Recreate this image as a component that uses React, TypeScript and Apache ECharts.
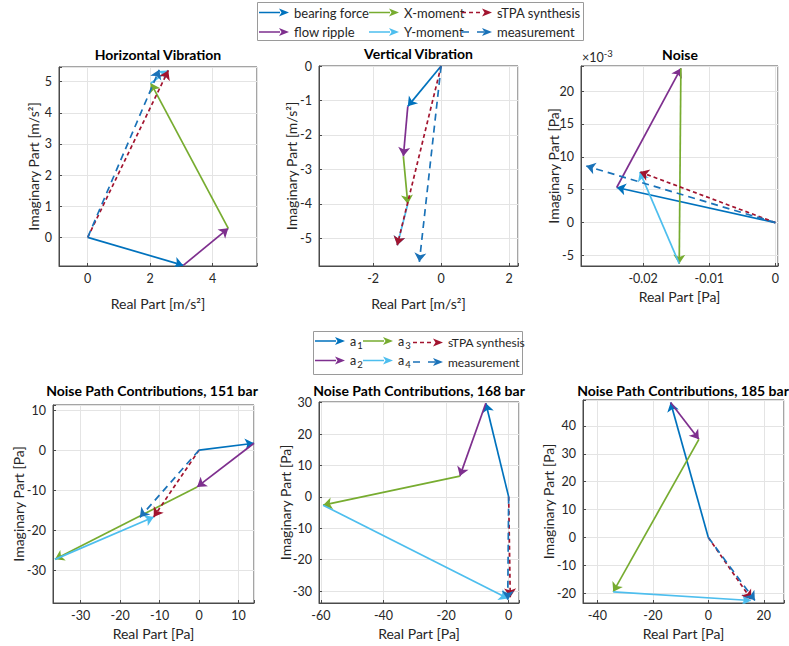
import React, { useEffect, useRef } from 'react';
import * as echarts from 'echarts';

// ---------- data ----------
const topComponentNames = ['bearing force', 'flow ripple', 'X-moment', 'Y-moment'];
const bottomComponentNames = ['a1', 'a2', 'a3', 'a4'];
const synthesisName = 'sTPA synthesis';
const measurementName = 'measurement';

const plotTitles = [
  'Horizontal Vibration',
  'Vertical Vibration',
  'Noise',
  'Noise Path Contributions, 151 bar',
  'Noise Path Contributions, 168 bar',
  'Noise Path Contributions, 185 bar',
];

const xAxisNames = ['Real Part [m/s²]', 'Real Part [m/s²]', 'Real Part [Pa]', 'Real Part [Pa]', 'Real Part [Pa]', 'Real Part [Pa]'];
const yAxisNames = ['Imaginary Part [m/s²]', 'Imaginary Part [m/s²]', 'Imaginary Part [Pa]', 'Imaginary Part [Pa]', 'Imaginary Part [Pa]', 'Imaginary Part [Pa]'];

const xTickSteps = [2, 2, 0.01, 10, 20, 20];
const yTickSteps = [1, 1, 0.005, 10, 10, 10];
const xLimits = [[-0.92, 5.42], [-3.59, 2.26], [-0.0294, 0.0004], [-37, 13.9], [-60.6, 3.3], [-45.2, 27.3]];
const yLimits = [[-0.92, 5.47], [-5.8, 0], [-0.0066, 0.0238], [-38.2, 11.25], [-33.8, 30.2], [-23.5, 49.3]];

// cumulative phasor chains: origin, then the tip after each of the 4 contributions
const horizontalChain = [[0, 0], [3.06, -0.9], [4.5, 0.29], [2.02, 4.95], [2.58, 5.36]];
const verticalChain = [[0, 0], [-0.98, -1.17], [-1.11, -2.62], [-0.98, -4.0], [-1.29, -5.2]];
const noiseChain = [[0, 0], [-0.024, 0.00533], [-0.01429, 0.02345], [-0.01454, -0.00624], [-0.0205, 0.0077]];
const bar151Chain = [[0, 0], [13.9, 1.7], [-0.5, -9.2], [-36.5, -27.3], [-11.5, -16.7]];
const bar168Chain = [[0, 0], [-7.3, 29.8], [-15.6, 6.6], [-59.3, -2.65], [-0.2, -32.4]];
const bar185Chain = [[0, 0], [-13.6, 48.4], [-3.4, 35.2], [-34.3, -19.5], [15.3, -22.6]];

const synthesisTips = [[2.58, 5.36], [-1.29, -5.2], [-0.0205, 0.0077], [-11.5, -16.7], [0.5, -32.0], [15.5, -22.2]];
const measurementTips = [[2.29, 5.38], [-0.64, -5.68], [-0.0286, 0.0086], [-15.0, -16.8], [-0.3, -32.8], [16.8, -22.6]];

const chains = [horizontalChain, verticalChain, noiseChain, bar151Chain, bar168Chain, bar185Chain];

// ---------- style / layout ----------
const componentColors = ['#0072BD', '#7E2F8E', '#77AC30', '#4DBEEE'];
const synthesisColor = '#A2142F';
const measurementColor = '#1A72B8';
const FONT = 'Lato';
const TEXT = '#262626';
const AXIS = '#4a4a4a';

const grids = [
  { left: 59, top: 67, width: 198, height: 199 },
  { left: 319, top: 66, width: 199, height: 200 },
  { left: 581, top: 66, width: 197, height: 200 },
  { left: 53, top: 405, width: 201, height: 198 },
  { left: 319, top: 402, width: 200, height: 201 },
  { left: 583, top: 400, width: 201, height: 203 },
];
const titleCenters = [[158, 54], [418.5, 53.5], [680, 54], [152, 390.5], [419, 390.5], [683, 390.5]];
const yNameCenters = [[33, 166.5], [291.5, 166], [553, 166], [18.5, 504], [285, 502.5], [548.5, 501.5]];
const xNameGaps = [30, 30, 23, 23, 23, 23];

const solidIcon = 'path://M0 3.2L21 3.2L21 4.8L0 4.8Z M20 0L30 4L20 8L22.5 4Z';
const synthIcon = 'path://M0 3.2L4 3.2L4 4.8L0 4.8Z M7 3.2L11 3.2L11 4.8L7 4.8Z M14 3.2L18 3.2L18 4.8L14 4.8Z M20 0L30 4L20 8L22.5 4Z';
const measIcon = 'path://M0 3.2L7 3.2L7 4.8L0 4.8Z M15 3.2L22 3.2L22 4.8L15 4.8Z M20 0L30 4L20 8L22.5 4Z';

const isMultiple = (v: number, step: number) => Math.abs(v / step - Math.round(v / step)) < 1e-6;
const fmtNum = (v: number) => String(parseFloat(v.toFixed(6)));

export default function App() {
  const ref = useRef<HTMLDivElement>(null);

  useEffect(() => {
    document.body.style.margin = '0';
    if (!ref.current) return;
    const chart = echarts.init(ref.current, undefined, { renderer: 'svg' });

    const xAxes: any[] = [];
    const yAxes: any[] = [];
    const series: any[] = [];

    for (let p = 0; p < 6; p++) {
      const xs = xTickSteps[p];
      const ys = yTickSteps[p];
      const common = {
        gridIndex: p,
        type: 'value',
        splitNumber: 5,
        axisTick: { show: true, inside: true, length: 3, lineStyle: { color: AXIS } },
        splitLine: { show: true, lineStyle: { color: '#e4e4e4', width: 1 } },
      };
      xAxes.push({
        ...common,
        position: 'bottom',
        min: xLimits[p][0],
        max: xLimits[p][1],
        minInterval: xs,
        maxInterval: xs,
        axisLine: { show: true, onZero: false, lineStyle: { color: AXIS, width: 1 } },
        axisLabel: {
          show: true, margin: 6, color: TEXT, fontSize: 12.5, fontFamily: FONT, hideOverlap: false,
          formatter: (v: number) => (isMultiple(v, xs) ? fmtNum(v) : ''),
        },
        name: xAxisNames[p],
        nameLocation: 'middle',
        nameGap: xNameGaps[p],
        nameTextStyle: { color: TEXT, fontSize: 14, fontFamily: FONT },
      });
      yAxes.push({
        ...common,
        position: 'left',
        min: yLimits[p][0],
        max: yLimits[p][1],
        minInterval: ys,
        maxInterval: ys,
        axisLine: { show: true, onZero: false, lineStyle: { color: AXIS, width: 1 } },
        axisLabel: {
          show: true, margin: 7, color: TEXT, fontSize: 12.5, fontFamily: FONT, hideOverlap: false,
          formatter: (v: number) => (isMultiple(v, ys) ? (p === 2 ? String(Math.round(v * 1000)) : fmtNum(v)) : ''),
        },
      });

      const names = p < 3 ? topComponentNames : bottomComponentNames;
      const chain = chains[p];
      const base = {
        type: 'lines',
        coordinateSystem: 'cartesian2d',
        xAxisIndex: p,
        yAxisIndex: p,
        symbol: ['none', 'arrow'],
        symbolSize: [6, 9],
        silent: true,
        clip: true,
      };
      for (let k = 0; k < 4; k++) {
        series.push({
          ...base,
          name: names[k],
          z: 2 + k,
          lineStyle: { color: componentColors[k], width: 1.7, type: 'solid', opacity: 1, curveness: 0 },
          data: [{ coords: [chain[k], chain[k + 1]] }],
        });
      }
      series.push({
        ...base,
        name: synthesisName,
        z: 7,
        lineStyle: { color: synthesisColor, width: 1.7, type: [4, 3], opacity: 1, curveness: 0 },
        data: [{ coords: [[0, 0], synthesisTips[p]] }],
      });
      series.push({
        ...base,
        name: measurementName,
        z: 8,
        lineStyle: { color: measurementColor, width: 1.7, type: [7, 5], opacity: 1, curveness: 0 },
        data: [{ coords: [[0, 0], measurementTips[p]] }],
      });
    }

    // legends: one component per entry so columns line up
    const legendEntries = [
      { name: 'bearing force', icon: solidIcon, color: componentColors[0], left: 259, cy: 12.5, fs: 13 },
      { name: 'flow ripple', icon: solidIcon, color: componentColors[1], left: 259, cy: 32, fs: 13 },
      { name: 'X-moment', icon: solidIcon, color: componentColors[2], left: 369, cy: 12.5, fs: 13 },
      { name: 'Y-moment', icon: solidIcon, color: componentColors[3], left: 369, cy: 32, fs: 13 },
      { name: synthesisName, icon: synthIcon, color: synthesisColor, left: 462, cy: 12.5, fs: 13 },
      { name: measurementName, icon: measIcon, color: measurementColor, left: 462, cy: 32, fs: 13 },
      { name: 'a1', icon: solidIcon, color: componentColors[0], left: 315, cy: 342.5, fs: 12 },
      { name: 'a2', icon: solidIcon, color: componentColors[1], left: 315, cy: 362, fs: 12 },
      { name: 'a3', icon: solidIcon, color: componentColors[2], left: 363, cy: 342.5, fs: 12 },
      { name: 'a4', icon: solidIcon, color: componentColors[3], left: 363, cy: 362, fs: 12 },
      { name: synthesisName, icon: synthIcon, color: synthesisColor, left: 413, cy: 342.5, fs: 12 },
      { name: measurementName, icon: measIcon, color: measurementColor, left: 413, cy: 362, fs: 12 },
    ];
    const legends = legendEntries.map((e) => {
      const isA = /^a\d$/.test(e.name);
      return {
        show: true,
        selectedMode: false,
        left: e.left,
        top: e.cy - (isA ? 9 : 7.5),
        padding: 0,
        itemGap: 0,
        itemWidth: 30,
        itemHeight: 8,
        data: [{ name: e.name, icon: e.icon, itemStyle: { color: e.color, borderWidth: 0, opacity: 1 } }],
        formatter: isA ? (n: string) => `{m|a}{s|${n.slice(1)}}` : undefined,
        textStyle: {
          color: TEXT, fontSize: e.fs, fontFamily: FONT, lineHeight: 15,
          rich: {
            m: { fontSize: 12.5, fontFamily: FONT, color: TEXT, padding: [0, 0, 0, 0] },
            s: { fontSize: 9.5, fontFamily: FONT, color: TEXT, padding: [8, 0, 0, 1] },
          },
        },
      };
    });

    const graphics: any[] = [
      { type: 'rect', shape: { x: 257.5, y: 2.5, width: 326, height: 38 }, style: { fill: 'none', stroke: '#9a9a9a', lineWidth: 1 }, silent: true },
      { type: 'rect', shape: { x: 313.5, y: 331.5, width: 209, height: 43 }, style: { fill: 'none', stroke: '#9a9a9a', lineWidth: 1 }, silent: true },
      {
        type: 'text', x: 582, y: 57, silent: true,
        style: {
          text: '{a|×10}{s|-3}', align: 'left', verticalAlign: 'middle', fill: TEXT,
          rich: {
            a: { fontSize: 12.5, fontFamily: FONT, fill: TEXT },
            s: { fontSize: 9.5, fontFamily: FONT, fill: TEXT, padding: [0, 0, 8, 0] },
          },
        },
      },
      ...plotTitles.map((t, i) => ({
        type: 'text', x: titleCenters[i][0], y: titleCenters[i][1], silent: true,
        style: { text: t, align: 'center', verticalAlign: 'middle', fill: '#000', fontSize: 14, fontWeight: 'bold', fontFamily: FONT },
      })),
      ...yAxisNames.map((t, i) => ({
        type: 'text', x: yNameCenters[i][0], y: yNameCenters[i][1], rotation: Math.PI / 2, silent: true,
        style: { text: t, align: 'center', verticalAlign: 'middle', fill: TEXT, fontSize: 14, fontFamily: FONT },
      })),
    ];

    chart.setOption({
      animation: false,
      backgroundColor: '#ffffff',
      grid: grids.map((g) => ({ ...g, show: true, borderColor: AXIS, borderWidth: 1, containLabel: false, outerBoundsMode: 'none' })),
      xAxis: xAxes,
      yAxis: yAxes,
      legend: legends,
      series,
      graphic: graphics,
    });

    return () => chart.dispose();
  }, []);

  return <div ref={ref} style={{ width: 789, height: 646 }} />;
}
